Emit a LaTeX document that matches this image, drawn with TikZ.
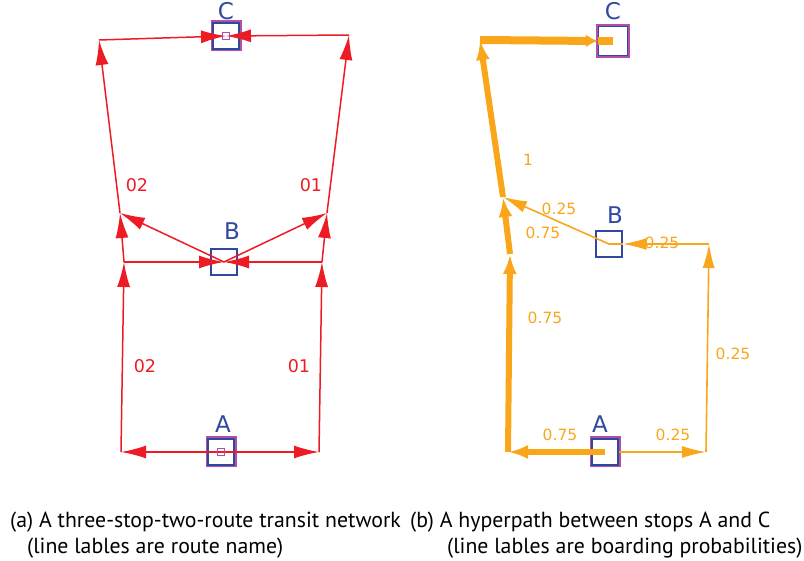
\documentclass[tikz,border=0pt]{standalone}
\usepackage{fontspec}
\setmainfont{PT Sans}
\newfontfamily\labelfont{DejaVu Sans}
\usetikzlibrary{arrows.meta}

\definecolor{routered}{RGB}{237,28,36}
\definecolor{stopblue}{RGB}{48,72,160}
\definecolor{stoppurple}{RGB}{178,80,168}
\definecolor{hyperorange}{RGB}{250,166,26}

\begin{document}
\begin{tikzpicture}[x=1pt,y=-1pt,
        >={Latex[length=25pt,width=13pt]},
        stop/.style={draw=stopblue, fill=white, line width=1.4pt, minimum size=26pt, inner sep=0pt},
        endstop/.style={stop, preaction={draw=stoppurple, line width=5pt}},
        core/.style={draw=stoppurple, line width=1pt, minimum size=7pt, inner sep=0pt},
        stopname/.style={text=stopblue, font=\labelfont\fontsize{23}{23}\selectfont},
        route/.style={routered, line width=1.5pt},
        routelabel/.style={text=routered, font=\labelfont\fontsize{17.5}{17.5}\selectfont},
        flow/.style={hyperorange, line width=1.6pt, >={Latex[length=24pt,width=12pt]}},
        mainflow/.style={hyperorange, line width=6pt, >={Latex[length=20pt,width=14pt]}},
        problabel/.style={text=hyperorange, font=\labelfont\fontsize{15.5}{15.5}\selectfont},
        caption/.style={anchor=base west, inner sep=0pt, font=\fontsize{21.8}{26}\selectfont}]

        \useasboundingbox (0,0) rectangle (804,561);

        % (a) transit network
        \node[endstop] (A) at (221,452) {};
        \node[stop] (B) at (224,262) {};
        \node[endstop] (C) at (226,36) {};
        \node[stopname] (Aname) at (223,424) {A};
        \node[stopname] (Bname) at (232,231) {B};
        \node[stopname] (Cname) at (226,11) {C};

        \coordinate (a1) at (121,452);
        \coordinate (a2) at (319,452);
        \coordinate (a3) at (124,262);
        \coordinate (a4) at (322,262);
        \coordinate (a5) at (120,213);
        \coordinate (a6) at (327,213);
        \coordinate (a7) at (99,40);
        \coordinate (a8) at (349,35);

        \draw[route,->] (A.center) -- (a1);
        \draw[route,->] (A.center) -- (a2);
        \draw[route,->] (a1) -- (a3);
        \draw[route,->] (a2) -- (a4);
        \draw[route,->] (a3) -- (B.center);
        \draw[route,->] (a4) -- (B.center);
        \draw[route,->] (a3) -- (a5);
        \draw[route,->] (a4) -- (a6);
        \draw[route,->] (B.center) -- (a5);
        \draw[route,->] (B.center) -- (a6);
        \draw[route,->] (a5) -- (a7);
        \draw[route,->] (a6) -- (a8);
        \draw[route,->] (a7) -- (C.center);
        \draw[route,->] (a8) -- (C.center);

        \node[core] (Acore) at (A) {};
        \node[core] (Ccore) at (C) {};

        \node[routelabel] (r1) at (137,185) {02};
        \node[routelabel] (r2) at (311,185) {01};
        \node[routelabel] (r3) at (145,366) {02};
        \node[routelabel] (r4) at (299,366) {01};

        % (b) hyperpath
        \node[endstop] (A2) at (605,452) {};
        \node[stop] (B2) at (609,244) {};
        \node[endstop, minimum size=29pt] (C2) at (613,41) {};
        \node[stopname] (A2name) at (600,424) {A};
        \node[stopname] (B2name) at (615,215) {B};
        \node[stopname] (C2name) at (613,11) {C};

        \coordinate (b1) at (508,452);
        \coordinate (b2) at (706,452);
        \coordinate (b3) at (510,254);
        \coordinate (b4) at (709,244);
        \coordinate (b5) at (503,197);
        \coordinate (b7) at (480,40);

        \draw[mainflow,->] (A2.center) -- (b1);
        \draw[mainflow,->] (b1) -- (b3);
        \draw[mainflow,->] (b3) -- (b5);
        \draw[mainflow,->] (b5) -- (b7);
        \draw[mainflow,line width=8pt,-{Latex[length=12pt,width=13pt]}] (b7) -- (C2.west);
        \draw[mainflow,line width=8pt] (C2.west) -- (C2.center);

        \draw[flow,->] (A2.east) -- (b2);
        \draw[flow,->] (b2) -- (b4);
        \draw[flow,->] (b4) -- (B2.east);
        \draw[flow] (B2.east) -- (B2.center);
        \draw[flow,->] (B2.center) -- (b5);

        \node[problabel] (p1) at (528,160) {1};
        \node[problabel] (p2) at (559,209) {0.25};
        \node[problabel] (p3) at (543,233) {0.75};
        \node[problabel] (p4) at (662,243) {0.25};
        \node[problabel] (p5) at (545,318) {0.75};
        \node[problabel] (p6) at (733,354) {0.25};
        \node[problabel] (p7) at (560,435) {0.75};
        \node[problabel] (p8) at (673,435) {0.25};

        % captions
        \node[caption] (capa1) at (10,527) {(a) A three-stop-two-route transit network};
        \node[caption] (capa2) at (27,553) {(line lables are route name)};
        \node[caption] (capb1) at (410,527) {(b) A hyperpath between stops A and C};
        \node[caption] (capb2) at (447,553) {(line lables are boarding probabilities)};
\end{tikzpicture}
\end{document}
